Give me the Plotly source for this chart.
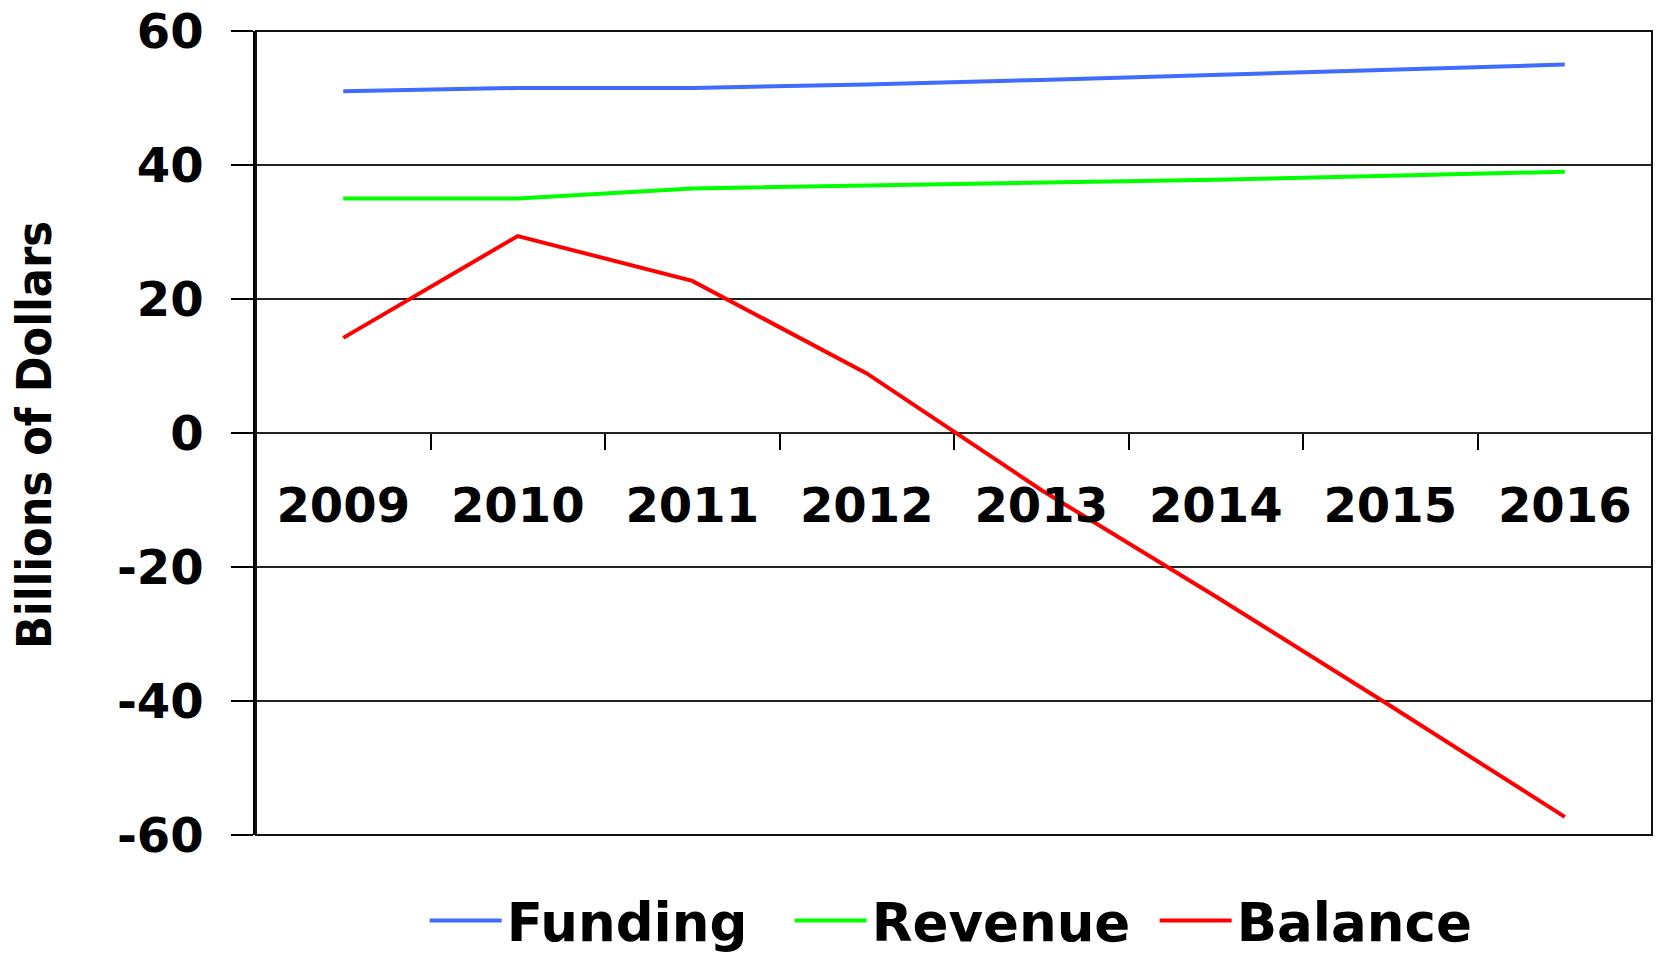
import plotly.graph_objects as go

years = ["2009", "2010", "2011", "2012", "2013", "2014", "2015", "2016"]
funding = [51.0, 51.5, 51.5, 52.0, 52.7, 53.4, 54.2, 55.0]
revenue = [35.0, 35.0, 36.5, 36.9, 37.3, 37.8, 38.4, 39.0]
balance = [14.2, 29.4, 22.7, 8.9, -8.5, -24.4, -40.7, -57.3]
y_ticks = [-60, -40, -20, 0, 20, 40, 60]
y_ticktext = ["-60", "-40", "-20", "0", "20", "40", "60"]

FONT = "DejaVu Sans"

fig = go.Figure()
fig.add_trace(go.Scatter(x=years, y=funding, name="Funding", mode="lines",
                         line=dict(color="#3F6BFF", width=4)))
fig.add_trace(go.Scatter(x=years, y=revenue, name="Revenue", mode="lines",
                         line=dict(color="#00FF00", width=4)))
fig.add_trace(go.Scatter(x=years, y=balance, name="Balance", mode="lines",
                         line=dict(color="#FF0000", width=4)))

fig.update_layout(
    width=1663, height=959,
    margin=dict(l=256, r=11, t=31, b=124, autoexpand=False),
    paper_bgcolor="white", plot_bgcolor="white",
    font=dict(family=FONT, size=48, color="black", weight="bold"),
    showlegend=True,
    legend=dict(orientation="h", x=0.513, xanchor="center",
                yref="container", y=0.040, yanchor="middle",
                font=dict(family=FONT, size=53, color="black", weight="bold"),
                itemwidth=72, entrywidth=278, entrywidthmode="pixels",
                tracegroupgap=0),
    xaxis=dict(
        type="category", range=[-0.5, 7.5],
        anchor="free", position=0.5,
        tickson="boundaries", ticks="outside", ticklen=16, tickwidth=1.5, tickcolor="black",
        showline=False, showgrid=False, zeroline=False,
        ticklabelstandoff=40, automargin=False,
        tickfont=dict(family=FONT, size=48, color="black", weight="bold"),
    ),
    yaxis=dict(
        range=[-60, 60], tickvals=y_ticks, ticktext=y_ticktext,
        ticks="outside", ticklen=22, tickwidth=1.5, tickcolor="black",
        showgrid=True, gridcolor="#222222", gridwidth=1.5,
        zeroline=True, zerolinecolor="#222222", zerolinewidth=1.5,
        showline=True, linecolor="black", linewidth=2.5,
        ticklabelstandoff=18, automargin=False,
        tickfont=dict(family=FONT, size=48, color="black", weight="bold"),
    ),
    shapes=[dict(type="rect", xref="paper", yref="paper", x0=0, x1=1, y0=0, y1=1,
                 line=dict(color="#111111", width=2), layer="above")],
    annotations=[dict(
        text="Billions of Dollars", textangle=-90,
        xref="paper", yref="paper", x=-0.159, y=0.4975,
        xanchor="center", yanchor="middle", showarrow=False,
        font=dict(family="DejaVu Sans Condensed, DejaVu Sans", size=48, color="black", weight="bold"),
    )],
)

fig.write_html("out.html",
               config={"displayModeBar": False},
               post_script="document.body.style.margin='0px';document.body.style.overflow='hidden';")
